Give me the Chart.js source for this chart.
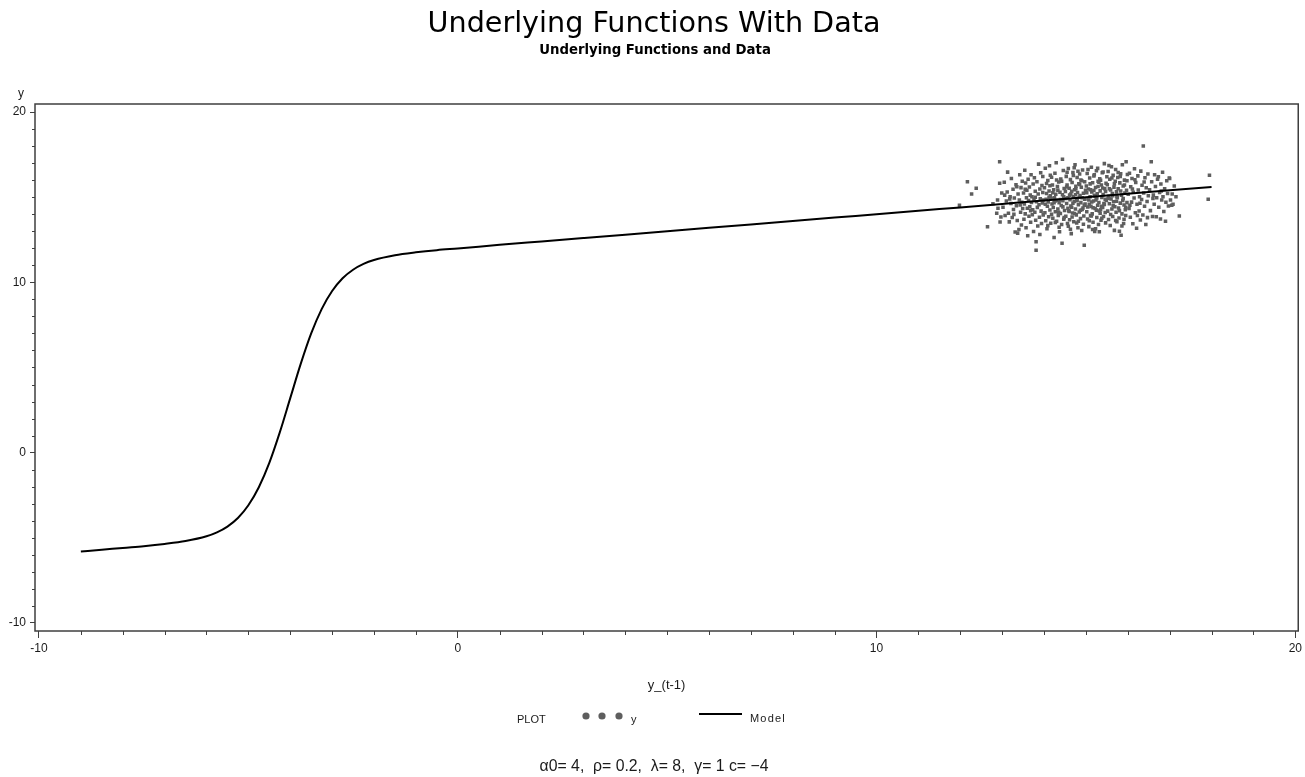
<!DOCTYPE html>
<html>
<head>
<meta charset="utf-8">
<title>Underlying Functions With Data</title>
<script src="https://cdn.jsdelivr.net/npm/chart.js@4.4.1/dist/chart.umd.min.js"></script>
<style>
  html, body { margin: 0; padding: 0; background: #ffffff; }
  #wrap { position: relative; width: 1305px; height: 777px; }
</style>
</head>
<body>
<div id="wrap"><canvas id="chart" width="1305" height="777"></canvas></div>
<script>
// ---- texts ----
const titleText = 'Underlying Functions With Data';
const subtitleText = 'Underlying Functions and Data';
const xAxisTitle = 'y_(t-1)';
const yAxisTitle = 'y';
const legendTitle = 'PLOT';
const footnoteText = 'α0= 4,  ρ= 0.2,  λ= 8,  γ= 1 c= −4';

// ---- axes ----
const xMajorTicks = [-10, 0, 10, 20];
const yMajorTicks = [-10, 0, 10, 20];

// ---- model curve: y against y_(t-1) ----
const modelX = [-9, -8.5, -8, -7.5, -7, -6.5, -6, -5.75, -5.5, -5.25, -5, -4.75, -4.5, -4.25, -4,
  -3.75, -3.5, -3.25, -3, -2.75, -2.5, -2.25, -2, -1.5, -1, -0.5, 0, 1, 2, 3, 4, 5, 6, 7, 8, 9,
  10, 11, 12, 13, 14, 15, 16, 17, 18];
const modelY = [-5.80, -5.70, -5.59, -5.49, -5.36, -5.19, -4.91, -4.68, -4.34, -3.84, -3.09, -2.03, -0.60, 1.19, 3.20,
  5.21, 7.00, 8.43, 9.49, 10.24, 10.74, 11.08, 11.31, 11.59, 11.76, 11.89, 11.99, 12.20, 12.40, 12.60, 12.80, 13.00, 13.20, 13.40, 13.60, 13.80,
  14.00, 14.20, 14.40, 14.60, 14.80, 15.00, 15.20, 15.40, 15.60];

// ---- observed data: [y_(t-1), y] ----
const observed = [
  [11.98,14.52],[12.17,15.9],[12.27,15.18],[12.38,15.53],
  [12.65,13.26],[12.94,17.08],[12.87,14.06],[12.89,14.83],[12.9,14.35],[12.94,15.82],[12.95,13.54],[12.97,13.83],[12.99,15.24],[12.78,14.62],
  [13.02,14.41],[13.05,15.88],[13.07,13.92],[13.1,14.77],[13.13,16.47],[13.12,15.3],[13.15,14.06],[13.17,13.55],[13.19,15.02],[13.21,14.63],
  [13.22,16.09],[13.24,13.81],[13.26,15.47],[13.27,14.28],[13.29,14.95],[13.31,12.95],[13.33,15.73],[13.34,14.49],[13.36,13.63],[13.37,12.89],
  [13.38,15.19],[13.4,13.1],[13.41,14.84],[13.42,16.31],[13.44,14.12],[13.45,15.56],[13.46,13.37],[13.47,14.7],[13.48,15.94],[13.49,14.33],
  [13.06,15.12],[13.18,14.9],[13.28,13.99],[13.35,15.61],[13.43,14.54],
  [13.51,15.25],[13.52,13.71],[13.53,14.6],[13.54,16.58],[13.55,14.02],[13.56,15.83],[13.57,13.2],[13.58,14.97],[13.59,15.41],[13.6,14.35],
  [13.61,12.74],[13.62,16.05],[13.63,14.81],[13.64,13.88],[13.65,15.6],[13.66,14.44],[13.67,15.12],[13.68,13.53],[13.69,16.32],[13.7,14.69],
  [13.71,15.03],[13.72,13.97],[13.73,14.26],[13.74,15.77],[13.75,12.99],[13.76,14.88],[13.77,16.14],[13.78,14.12],[13.79,15.35],[13.8,13.64],
  [13.81,12.38],[13.81,11.89],[13.82,14.73],[13.83,15.91],[13.84,14.4],[13.85,13.31],[13.86,15.18],[13.87,16.94],[13.88,14.55],[13.89,13.82],
  [13.9,15.48],[13.91,14.91],[13.92,16.43],[13.93,14.18],[13.94,13.45],[13.95,15.69],[13.96,14.66],[13.97,15.27],[13.98,13.96],[13.99,14.83],
  [13.55,15.46],[13.68,14.21],[13.79,14.99],[13.9,12.81],[13.97,16.21],
  [14.01,15.55],[14.02,14.09],[14.03,16.7],[14.04,13.62],[14.05,14.88],[14.06,15.21],[14.07,13.14],[14.08,14.47],[14.09,15.98],[14.1,14.72],
  [14.11,13.85],[14.12,15.36],[14.13,16.84],[14.14,14.25],[14.15,15.08],[14.16,13.47],[14.17,14.93],[14.18,16.17],[14.19,14.6],[14.2,15.71],
  [14.21,13.76],[14.22,14.39],[14.23,15.44],[14.24,12.63],[14.25,14.97],[14.26,16.4],[14.27,14.15],[14.28,15.17],[14.29,17.02],[14.3,13.58],
  [14.31,14.82],[14.32,15.62],[14.33,14.31],[14.34,13.93],[14.35,15.89],[14.36,14.67],[14.37,12.97],[14.38,15.29],[14.39,14.04],[14.4,16.07],
  [14.41,14.51],[14.42,13.39],[14.43,12.3],[14.44,17.22],[14.44,15.14],[14.45,14.79],[14.46,16.56],[14.47,13.7],[14.48,15.51],[14.49,14.22],
  [14.03,14.58],[14.06,15.8],[14.09,13.33],[14.12,14.99],[14.15,16.29],[14.18,13.99],[14.21,15.26],[14.24,14.68],[14.27,13.52],[14.3,16.01],
  [14.33,15.41],[14.36,13.24],[14.39,14.86],[14.42,15.94],[14.45,14.43],[14.48,13.81],[14.14,15.67],[14.26,14.76],[14.35,14.11],[14.47,15.03],
  [14.51,15.34],[14.52,13.88],[14.53,16.22],[14.54,14.63],[14.55,15.71],[14.56,13.45],[14.57,14.97],[14.58,16.68],[14.59,14.2],[14.6,15.52],
  [14.61,13.67],[14.62,14.85],[14.63,16.03],[14.64,15.18],[14.65,12.86],[14.66,14.41],[14.67,15.86],[14.68,14.07],[14.69,16.45],[14.7,15.02],
  [14.71,13.56],[14.72,14.74],[14.73,15.43],[14.74,16.9],[14.75,14.3],[14.76,15.64],[14.77,13.96],[14.78,14.9],[14.79,16.15],[14.8,15.27],
  [14.81,13.21],[14.82,14.55],[14.83,15.79],[14.84,14.13],[14.85,16.36],[14.86,15.09],[14.87,13.74],[14.88,14.68],[14.89,15.58],[14.9,13.04],
  [14.91,14.96],[14.92,16.59],[14.93,14.37],[14.94,15.23],[14.95,13.89],[14.96,12.18],[14.97,15.91],[14.98,17.13],[14.98,14.6],[14.99,15.4],
  [14.52,14.92],[14.55,16.46],[14.58,13.29],[14.61,15.12],[14.64,14.48],[14.67,13.83],[14.7,16.27],[14.73,14.04],[14.76,15.5],[14.79,14.79],
  [14.82,13.59],[14.85,15.74],[14.88,16.01],[14.91,14.27],[14.94,13.41],[14.97,14.88],[14.54,15.6],[14.6,14.16],[14.66,15.35],[14.72,16.73],
  [14.78,13.48],[14.84,14.99],[14.9,15.96],[14.96,14.52],[14.57,14.35],[14.63,13.12],[14.69,14.64],[14.75,15.14],[14.81,16.52],[14.87,14.23],
  [15.01,15.66],[15.02,14.15],[15.03,16.39],[15.04,13.72],[15.05,14.91],[15.06,15.48],[15.07,13.27],[15.08,14.59],[15.09,16.12],[15.1,15.02],
  [15.11,13.93],[15.12,14.46],[15.13,16.76],[15.14,15.3],[15.15,14.02],[15.16,15.85],[15.17,13.53],[15.18,14.77],[15.19,16.24],[15.2,15.11],
  [15.21,12.99],[15.22,14.33],[15.23,15.57],[15.24,14.84],[15.25,16.55],[15.26,13.81],[15.27,15.2],[15.28,14.52],[15.29,15.93],[15.3,13.4],
  [15.31,14.69],[15.32,12.97],[15.33,16.08],[15.34,15.37],[15.35,14.26],[15.36,13.64],[15.37,15.72],[15.38,14.98],[15.39,16.44],[15.4,14.4],
  [15.41,15.15],[15.42,13.86],[15.43,14.63],[15.44,16.97],[15.45,15.5],[15.46,14.1],[15.47,13.49],[15.48,15.82],[15.49,14.81],[15.5,16.2],
  [15.02,15.26],[15.05,16.63],[15.08,13.61],[15.11,15.43],[15.14,14.72],[15.17,14.38],[15.2,16.31],[15.23,13.15],[15.26,14.95],[15.29,15.63],
  [15.32,14.19],[15.35,15.99],[15.38,13.76],[15.41,16.48],[15.44,14.57],[15.47,15.33],[15.04,14.42],[15.1,15.78],[15.16,13.1],[15.22,15.06],
  [15.28,16.69],[15.34,14.05],[15.4,15.54],[15.46,14.87],[15.07,14.83],[15.13,13.9],[15.19,15.39],[15.25,14.24],[15.31,15.88],[15.37,14.47],
  [15.51,15.73],[15.52,14.18],[15.53,16.51],[15.54,13.69],[15.55,15.06],[15.56,14.61],[15.57,16.05],[15.58,13.34],[15.59,15.42],[15.6,14.89],
  [15.61,16.78],[15.62,14.3],[15.63,15.21],[15.64,13.87],[15.65,16.28],[15.66,14.73],[15.67,15.59],[15.68,13.05],[15.69,14.44],[15.7,15.94],
  [15.71,16.62],[15.72,14.11],[15.73,15.31],[15.74,13.56],[15.75,14.97],[15.76,16.16],[15.77,15.49],[15.78,14.36],[15.79,13.78],[15.8,13.0],
  [15.81,15.84],[15.82,14.65],[15.83,16.38],[15.84,12.77],[15.85,15.12],[15.86,14.02],[15.87,16.9],[15.88,14.8],[15.89,15.65],[15.9,13.46],
  [15.91,14.54],[15.92,16.0],[15.93,15.25],[15.94,14.26],[15.95,13.92],[15.96,17.08],[15.97,15.4],[15.98,14.68],[15.99,16.33],[15.53,14.94],
  [15.56,15.5],[15.59,13.98],[15.62,16.12],[15.65,14.5],[15.68,15.78],[15.71,13.63],[15.74,15.02],[15.77,16.45],[15.8,14.21],[15.83,15.36],
  [15.86,13.31],[15.89,14.92],[15.92,15.71],[15.95,14.4],[15.98,15.97],[15.55,16.86],[15.64,15.08],[15.73,14.76],[15.82,16.21],[15.91,13.7],
  [16.01,15.17],[16.03,14.33],[16.04,16.41],[16.06,13.82],[16.07,15.61],[16.09,14.71],[16.1,16.09],[16.12,13.44],[16.13,15.29],[16.15,14.95],
  [16.16,16.67],[16.18,14.08],[16.19,15.86],[16.21,13.17],[16.22,14.58],[16.24,16.25],[16.25,15.42],[16.27,14.19],[16.28,15.03],[16.3,13.66],
  [16.31,16.53],[16.33,14.86],[16.34,15.7],[16.36,13.95],[16.37,18.0],[16.38,15.24],[16.4,14.47],[16.41,16.14],[16.43,13.39],[16.44,15.55],
  [16.46,14.75],[16.47,13.8],[16.48,16.36],[16.49,15.08],[16.05,14.52],[16.11,15.48],[16.17,16.02],[16.23,13.92],[16.29,14.64],[16.39,15.89],
  [16.52,15.44],[16.54,14.21],[16.56,17.08],[16.57,15.9],[16.59,13.87],[16.61,15.12],[16.63,14.58],[16.64,16.31],[16.66,15.63],[16.68,13.85],
  [16.69,14.96],[16.71,16.05],[16.73,16.2],[16.74,14.41],[16.76,15.28],[16.78,13.72],[16.79,15.77],[16.81,14.83],[16.83,16.46],[16.84,15.03],
  [16.86,14.16],[16.88,15.5],[16.9,13.58],[16.91,14.7],[16.93,15.96],[16.95,15.22],[16.97,14.48],[16.99,16.12],[16.6,14.92],[16.8,15.36],
  [17.02,14.83],[17.05,14.53],[17.06,15.18],[17.08,14.59],[17.11,15.65],[17.15,15.02],[17.0,16.1],[17.23,13.89],
  [17.92,14.88],[17.95,16.29]
];

// ---- styling ----
const pointGrey = '#5e5e5e';
const axisColor = '#3f3f3f';
const textColor = '#1a1a1a';
const serifless = '"Liberation Sans", Arial, sans-serif';
const titleFamily = '"DejaVu Sans", Verdana, sans-serif';

// font size that makes a text span a given width
function fitSize(ctx, text, weight, family, width) {
  ctx.font = `${weight} 100px ${family}`;
  return 100 * width / ctx.measureText(text).width;
}

// frame, minor ticks, titles, legend and footnote
const decorations = {
  id: 'decorations',
  afterDraw(chart) {
    const ctx = chart.ctx;
    const area = chart.chartArea;
    const xs = chart.scales.x;
    const ys = chart.scales.y;
    ctx.save();

    // plot frame
    ctx.strokeStyle = axisColor;
    ctx.lineWidth = 1.5;
    ctx.strokeRect(area.left, area.top, area.right - area.left, area.bottom - area.top);

    // minor ticks at every unit
    ctx.lineWidth = 1;
    ctx.beginPath();
    for (let v = Math.ceil(xs.min); v <= Math.floor(xs.max); v++) {
      if (xMajorTicks.includes(v)) continue;
      const px = Math.round(xs.getPixelForValue(v)) + 0.5;
      ctx.moveTo(px, area.bottom);
      ctx.lineTo(px, area.bottom + 4);
    }
    for (let v = Math.ceil(ys.min); v <= Math.floor(ys.max); v++) {
      if (yMajorTicks.includes(v)) continue;
      const py = Math.round(ys.getPixelForValue(v)) + 0.5;
      ctx.moveTo(area.left - 3, py);
      ctx.lineTo(area.left, py);
    }
    ctx.stroke();

    // titles
    ctx.fillStyle = '#000';
    ctx.textAlign = 'center';
    ctx.textBaseline = 'alphabetic';
    let size = fitSize(ctx, titleText, 'normal', titleFamily, 453);
    ctx.font = `normal ${size}px ${titleFamily}`;
    ctx.fillText(titleText, 654, 32);
    size = fitSize(ctx, subtitleText, 'bold', titleFamily, 232);
    ctx.font = `bold ${size}px ${titleFamily}`;
    ctx.fillText(subtitleText, 655, 54);

    // axis titles
    ctx.fillStyle = textColor;
    ctx.textBaseline = 'middle';
    ctx.font = `12px ${serifless}`;
    ctx.fillText(yAxisTitle, 21, 94);
    ctx.font = `13px ${serifless}`;
    ctx.fillText(xAxisTitle, (area.left + area.right) / 2, 685);

    // legend
    const [lineSet, dotSet] = [chart.data.datasets[0], chart.data.datasets[1]];
    ctx.font = `11px ${serifless}`;
    ctx.textAlign = 'left';
    ctx.fillText(legendTitle, 517, 720);
    ctx.fillStyle = dotSet.backgroundColor;
    [586, 602, 619].forEach(cx => {
      ctx.beginPath();
      ctx.arc(cx, 716, 3.6, 0, Math.PI * 2);
      ctx.fill();
    });
    ctx.fillStyle = textColor;
    ctx.fillText(dotSet.label, 631, 720);
    ctx.strokeStyle = lineSet.borderColor;
    ctx.lineWidth = 2;
    ctx.beginPath();
    ctx.moveTo(699, 714);
    ctx.lineTo(742, 714);
    ctx.stroke();
    ctx.letterSpacing = '1.2px';
    ctx.fillText(lineSet.label, 750, 719);
    ctx.letterSpacing = '0px';

    // footnote
    ctx.textAlign = 'center';
    size = fitSize(ctx, footnoteText, 'normal', serifless, 229);
    ctx.font = `${size}px ${serifless}`;
    ctx.fillText(footnoteText, 654, 767);

    ctx.restore();
  }
};

new Chart(document.getElementById('chart'), {
  type: 'scatter',
  data: {
    datasets: [
      {
        label: 'Model',
        type: 'line',
        data: modelX.map((x, i) => ({ x, y: modelY[i] })),
        borderColor: '#000000',
        borderWidth: 2,
        pointRadius: 0,
        fill: false,
        cubicInterpolationMode: 'monotone',
        order: 0
      },
      {
        label: 'y',
        data: observed.map(([x, y]) => ({ x, y })),
        backgroundColor: pointGrey,
        borderWidth: 0,
        pointStyle: 'rect',
        pointRadius: 2.5,
        order: 1
      }
    ]
  },
  options: {
    responsive: false,
    animation: false,
    devicePixelRatio: 1,
    layout: { padding: { top: 104, right: 6, bottom: 0, left: 0 } },
    plugins: {
      legend: { display: false },
      tooltip: { enabled: false },
      title: { display: false }
    },
    scales: {
      x: {
        type: 'linear',
        min: -10.095,
        max: 20.07,
        afterBuildTicks: s => { s.ticks = xMajorTicks.map(v => ({ value: v })); },
        afterFit: s => { s.height = 146; },
        border: { display: false },
        grid: { display: true, drawOnChartArea: false, drawTicks: true, tickLength: 7, color: axisColor, lineWidth: 1 },
        ticks: { color: textColor, font: { family: serifless, size: 12 }, padding: 3, maxRotation: 0, autoSkip: false }
      },
      y: {
        type: 'linear',
        min: -10.47,
        max: 20.47,
        afterBuildTicks: s => { s.ticks = yMajorTicks.map(v => ({ value: v })); },
        afterFit: s => { s.width = 35; },
        border: { display: false },
        grid: { display: true, drawOnChartArea: false, drawTicks: true, tickLength: 5, color: axisColor, lineWidth: 1 },
        ticks: { color: textColor, font: { family: serifless, size: 12 }, padding: 4, autoSkip: false }
      }
    }
  },
  plugins: [decorations]
});
</script>
</body>
</html>
